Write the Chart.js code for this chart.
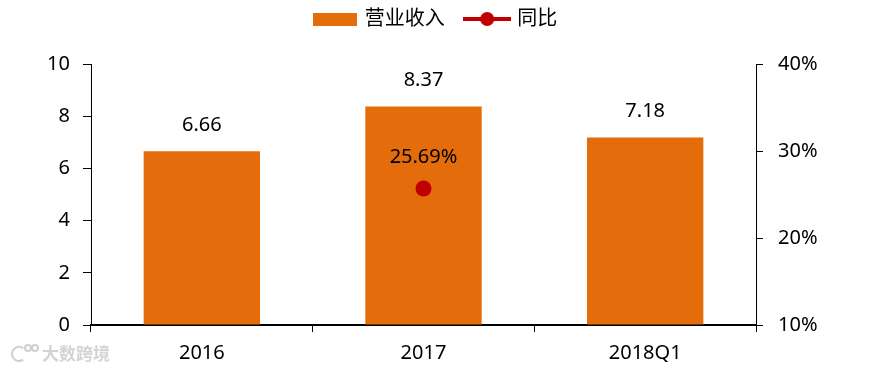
<!DOCTYPE html>
<html>
<head>
<meta charset="utf-8">
<script src="https://cdn.jsdelivr.net/npm/chart.js@4/dist/chart.umd.min.js"></script>
<style>
html,body{margin:0;padding:0;background:#fff;}
#wrap{width:872px;height:370px;position:relative;}
</style>
</head>
<body>
<div id="wrap"><canvas id="c" width="872" height="370"></canvas></div>
<script>
const categories = ['2016', '2017', '2018Q1'];
const revenue = [6.66, 8.37, 7.18];
const growth = [null, 25.69, null];
const revenueLabels = ['6.66', '8.37', '7.18'];
const growthLabels = [null, '25.69%', null];
const leftTicks = [0, 2, 4, 6, 8, 10];
const rightTicks = [10, 20, 30, 40];

const ORANGE = '#E46C0A';
const RED = '#C00000';
const FONT = "'Noto Sans', 'Noto Sans CJK SC', sans-serif";

function makeBarIcon() {
  const c = document.createElement('canvas');
  c.width = 44; c.height = 13;
  const g = c.getContext('2d');
  g.fillStyle = ORANGE; g.fillRect(0, 0, 44, 13);
  return c;
}
function makeLineIcon() {
  const c = document.createElement('canvas');
  c.width = 48; c.height = 16;
  const g = c.getContext('2d');
  g.fillStyle = RED; g.fillRect(0, 6, 48, 4);
  g.beginPath(); g.arc(24, 8, 7, 0, Math.PI * 2); g.fill();
  return c;
}
const barIcon = makeBarIcon();
const lineIcon = makeLineIcon();

const legendHeightPlugin = {
  id: 'legendHeight',
  beforeLayout(chart) {
    const lg = chart.legend;
    if (lg && !lg._fixedHeight) {
      const origFit = lg.fit.bind(lg);
      lg.fit = function () { origFit(); this.height = 64; };
      lg._fixedHeight = true;
    }
  }
};

const labelPlugin = {
  id: 'valueLabels',
  afterDatasetsDraw(chart) {
    const ctx = chart.ctx;
    ctx.save();
    ctx.font = '20px ' + FONT;
    ctx.fillStyle = '#000';
    ctx.textAlign = 'center';
    ctx.textBaseline = 'middle';
    const sets = [[0, revenueLabels, 26], [1, growthLabels, 31]];
    sets.forEach(([di, labels, off]) => {
      const meta = chart.getDatasetMeta(di);
      meta.data.forEach((el, i) => {
        if (labels[i] == null) return;
        ctx.fillText(labels[i], el.x, el.y - off);
      });
    });
    ctx.restore();
  }
};

const watermarkPlugin = {
  id: 'watermark',
  afterDraw(chart) {
    const ctx = chart.ctx;
    ctx.save();
    ctx.strokeStyle = '#d0d0d0';
    ctx.fillStyle = '#d4d4d4';
    ctx.lineWidth = 2;
    ctx.beginPath();
    ctx.arc(19, 354, 7, Math.PI * 0.3, Math.PI * 1.7);
    ctx.stroke();
    ctx.beginPath(); ctx.arc(28, 348, 3, 0, Math.PI * 2); ctx.stroke();
    ctx.beginPath(); ctx.arc(35, 348, 3, 0, Math.PI * 2); ctx.stroke();
    ctx.font = 'bold 17px ' + FONT;
    ctx.textBaseline = 'middle';
    ctx.fillText('大数跨境', 42, 355);
    ctx.restore();
  }
};

new Chart(document.getElementById('c'), {
  data: {
    labels: categories,
    datasets: [
      {
        type: 'bar',
        label: '营业收入',
        data: revenue,
        backgroundColor: ORANGE,
        borderWidth: 0,
        categoryPercentage: 1.0,
        barPercentage: 0.525,
        yAxisID: 'y',
        order: 2
      },
      {
        type: 'line',
        label: '同比',
        data: growth,
        borderColor: RED,
        backgroundColor: RED,
        borderWidth: 4,
        pointRadius: 8,
        pointHoverRadius: 8,
        pointBackgroundColor: RED,
        pointBorderWidth: 0,
        yAxisID: 'y1',
        order: 1
      }
    ]
  },
  options: {
    responsive: false,
    animation: false,
    devicePixelRatio: 1,
    layout: { padding: { top: 0, left: 0, right: 0, bottom: 0 } },
    plugins: {
      tooltip: { enabled: false },
      legend: {
        position: 'top',
        labels: {
          usePointStyle: true,
          pointStyleWidth: 40,
          boxHeight: 16,
          padding: 9,
          color: '#000',
          font: { size: 20, family: FONT },
          generateLabels() {
            return [
              { text: '营业收入\u2002\u2009', pointStyle: barIcon, datasetIndex: 0, fillStyle: ORANGE, strokeStyle: ORANGE, lineWidth: 0, hidden: false, fontColor: '#000' },
              { text: '同比', pointStyle: lineIcon, datasetIndex: 1, fillStyle: RED, strokeStyle: RED, lineWidth: 0, hidden: false, fontColor: '#000' }
            ];
          }
        }
      }
    },
    scales: {
      x: {
        offset: true,
        grid: { display: true, offset: true, drawOnChartArea: false, tickLength: 7, color: '#000', lineWidth: 1 },
        border: { display: true, color: '#000', width: 2 },
        ticks: { color: '#000', font: { size: 20, family: FONT }, padding: 9, maxRotation: 0 },
        afterFit(s) { s.height = 45; }
      },
      y: {
        position: 'left',
        min: 0, max: 10,
        afterBuildTicks(s) { s.ticks = leftTicks.map(v => ({ value: v })); },
        grid: { drawOnChartArea: false, tickLength: 8, color: '#000', lineWidth: 1 },
        border: { display: true, color: '#000', width: 1 },
        ticks: { color: '#000', font: { size: 20, family: FONT }, padding: 13 },
        afterFit(s) { s.width = 91; }
      },
      y1: {
        position: 'right',
        min: 10, max: 40,
        afterBuildTicks(s) { s.ticks = rightTicks.map(v => ({ value: v })); },
        grid: { drawOnChartArea: false, tickLength: 7, color: '#000', lineWidth: 1 },
        border: { display: true, color: '#000', width: 1 },
        ticks: { color: '#000', font: { size: 20, family: FONT }, padding: 15, callback: v => v + '%' },
        afterFit(s) { s.width = 116; }
      }
    }
  },
  plugins: [legendHeightPlugin, labelPlugin, watermarkPlugin]
});
</script>
</body>
</html>
